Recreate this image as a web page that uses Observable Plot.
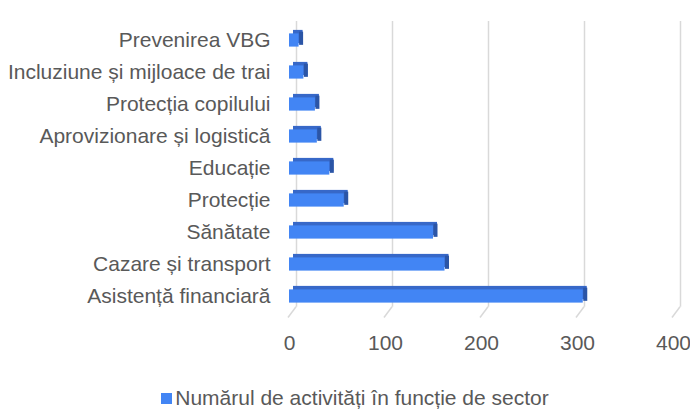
<!DOCTYPE html>
<html>
<head>
<meta charset="utf-8">
<script src="https://cdn.jsdelivr.net/npm/d3@7"></script>
<script src="https://cdn.jsdelivr.net/npm/@observablehq/plot@0.6"></script>
<style>
  body { margin: 0; background: #fff; font-family: "Liberation Sans", Arial, sans-serif; }
  #chart { width: 690px; }
  .legend { height: 47px; display: flex; align-items: center; justify-content: center; font-size: 21px; color: #595959; padding-top: 9px; padding-left: 20px; box-sizing: border-box; }
  .legend .sw { width: 11px; height: 11px; background: #4285f4; margin-right: 3px; display: inline-block; }
</style>
</head>
<body>
<div id="chart"></div>
<script>
const categories = [
  "Prevenirea VBG",
  "Incluziune și mijloace de trai",
  "Protecția copilului",
  "Aprovizionare și logistică",
  "Educație",
  "Protecție",
  "Sănătate",
  "Cazare și transport",
  "Asistență financiară"
];
const values = [10, 15, 27, 29, 42, 57, 150, 162, 306];
const xTicks = [0, 100, 200, 300, 400];
const seriesName = "Numărul de activități în funcție de sector";

const data = categories.map((c, i) => ({cat: c, value: values[i]}));

const W = 690, H = 370;
const inset = 9.4;
const depthX = 4, depthY = -3.5;

const chart = Plot.plot({
  width: W,
  height: H,
  marginLeft: 289,
  marginRight: 17,
  marginTop: 21,
  marginBottom: H - 314.7,
  style: {fontFamily: "'Liberation Sans', Arial, sans-serif", fontSize: "21px", color: "#595959", background: "#fff"},
  x: {domain: [0, 400], ticks: xTicks, tickFormat: d => String(d), label: null},
  y: {domain: categories, padding: 0, label: null},
  marks: [
    Plot.ruleX(xTicks, {x: d => d, stroke: "#d9d9d9", strokeWidth: 1.5, dx: 7, insetBottom: 8}),
    Plot.axisX({ticks: xTicks, tickSize: 0, tickPadding: 20, fontSize: 21, fill: "#595959", tickFormat: d => String(d), label: null}),
    Plot.axisY({tickSize: 0, tickPadding: 19, fontSize: 21, fill: "#595959", label: null}),
    // top face (shifted back bar)
    Plot.barX(data, {x: "value", y: "cat", fill: "#3768c8", dx: depthX, dy: depthY, insetTop: inset, insetBottom: inset}),
    // side face
    Plot.tickX(data, {x: "value", y: "cat", stroke: "#2b55a6", strokeWidth: depthX, dx: depthX / 2, dy: depthY / 2, insetTop: inset, insetBottom: inset}),
    // front face
    Plot.barX(data, {x: "value", y: "cat", fill: "#4285f4", insetTop: inset, insetBottom: inset})
  ]
});

// slanted floor tick lines from the back gridlines to the front, using the x scale
const xs = chart.scale("x");
const svg = d3.select(chart);
const g = svg.insert("g", ":first-child").attr("stroke", "#d9d9d9").attr("stroke-width", 1.5);
xTicks.forEach(t => {
  const px = xs.apply(t);
  g.append("line").attr("x1", px + 7).attr("y1", 306.7).attr("x2", px - 1).attr("y2", 317.5);
});

document.getElementById("chart").appendChild(chart);
const leg = document.createElement("div");
leg.className = "legend";
leg.innerHTML = '<span class="sw"></span><span></span>';
leg.lastChild.textContent = seriesName;
document.getElementById("chart").appendChild(leg);
</script>
</body>
</html>
